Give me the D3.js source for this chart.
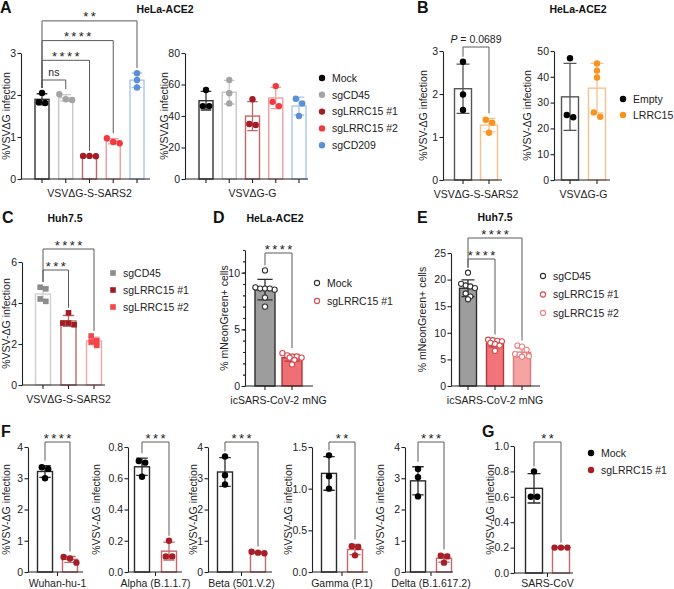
<!DOCTYPE html>
<html>
<head>
<meta charset="utf-8">
<script src="https://cdn.jsdelivr.net/npm/d3@7"></script>
<style>
  body { margin: 0; background: #fff; }
  svg { display: block; }
</style>
</head>
<body>
<script>
// ---------- data ----------
const groupsA = ["Mock", "sgCD45", "sgLRRC15 #1", "sgLRRC15 #2", "sgCD209"];
const aSpikeValues = [[2.05, 1.81, 1.83], [2.02, 1.88, 1.90], [0.55, 0.54, 0.55], [0.97, 0.85, 0.88], [2.52, 2.36, 2.18]];
const aGValues = [[56.5, 46.3, 46.3], [62.9, 54.4, 48.0], [50.6, 34.3, 34.9], [59.0, 46.3, 49.0], [51.0, 48.0, 40.0]];
const aSpikeTests = [["Mock", "sgCD45", "ns"], ["Mock", "sgLRRC15 #1", "****"], ["Mock", "sgLRRC15 #2", "****"], ["Mock", "sgCD209", "**"]];

const groupsB = ["Empty", "LRRC15"];
const bSpikeValues = [[2.75, 1.99, 1.63], [1.40, 1.33, 1.10]];
const bGValues = [[47.2, 24.3, 25.2], [45.2, 42.4, 39.7, 26.2, 24.5]];
const bSpikeTests = [["Empty", "LRRC15", "P = 0.0689"]];

const groupsC = ["sgCD45", "sgLRRC15 #1", "sgLRRC15 #2"];
const cValues = [[4.77, 4.69, 4.20, 4.08], [3.52, 2.94, 3.02, 3.02], [2.39, 2.10, 2.17, 1.93]];
const cTests = [["sgCD45", "sgLRRC15 #1", "***"], ["sgCD45", "sgLRRC15 #2", "****"]];

const groupsD = ["Mock", "sgLRRC15 #1"];
const dValues = [[10.2, 8.7, 8.6, 8.6, 8.5, 8.6, 7.8, 7.0], [2.9, 2.7, 2.6, 2.6, 2.5, 2.5, 2.3, 1.9]];
const dTests = [["Mock", "sgLRRC15 #1", "****"]];

const groupsE = ["sgCD45", "sgLRRC15 #1", "sgLRRC15 #2"];
const eValues = [[21.3, 19.2, 18.9, 18.7, 18.4, 17.4, 16.8, 16.3],
                 [8.7, 8.6, 8.5, 8.4, 8.1, 7.9, 7.6, 6.6],
                 [7.6, 7.4, 6.8, 6.0, 5.9, 5.8, 5.6, 5.5]];
const eTests = [["sgCD45", "sgLRRC15 #1", "****"], ["sgCD45", "sgLRRC15 #2", "****"]];

const groupsF = ["Mock", "sgLRRC15 #1"];
const variantsF = ["Wuhan-hu-1", "Alpha (B.1.1.7)", "Beta (501.V.2)", "Gamma (P.1)", "Delta (B.1.617.2)"];
const fMockValues = [[3.35, 3.30, 3.00], [0.71, 0.70, 0.61], [3.70, 3.10, 2.80], [1.40, 1.15, 1.00], [3.30, 3.03, 2.42]];
const fKoValues = [[0.48, 0.43, 0.30], [0.20, 0.10, 0.10], [0.65, 0.62, 0.60], [0.31, 0.30, 0.20], [0.52, 0.50, 0.30]];
const fStars = ["****", "***", "***", "**", "***"];
const fMax = [4, 0.8, 4, 1.5, 4];
const fTicks = [[0, 1, 2, 3, 4], [0, 0.2, 0.4, 0.6, 0.8], [0, 1, 2, 3, 4], [0, 0.5, 1.0, 1.5], [0, 1, 2, 3, 4]];

const gMockValues = [0.80, 0.60, 0.60];
const gKoValues = [0.20, 0.20, 0.20];
const gTicks = [0, 0.2, 0.4, 0.6, 0.8, 1.0];

// ---------- styles ----------
const FONT = '"Liberation Sans", Arial, Helvetica, sans-serif';
const FS = 10.5;
const styleA = {
  "Mock": { pt: "#000000", line: "#333333" },
  "sgCD45": { pt: "#a4a4a4", line: "#c8c8c8" },
  "sgLRRC15 #1": { pt: "#a21d25", line: "#c0666b" },
  "sgLRRC15 #2": { pt: "#ef3b40", line: "#f39b9d" },
  "sgCD209": { pt: "#5b8fd7", line: "#a9c6ee" }
};
const styleB = {
  "Empty": { pt: "#000000", line: "#555555" },
  "LRRC15": { pt: "#f7931e", line: "#f9c08a" }
};
const styleC = {
  "sgCD45": { pt: "#8c8c8c", line: "#cfcfcf" },
  "sgLRRC15 #1": { pt: "#a01c22", line: "#bb6a6e" },
  "sgLRRC15 #2": { pt: "#f2474b", line: "#f6a7a8" }
};
const styleD = {
  "Mock": { pt: "#333333", line: "#2f2f2f", fill: "#9d9d9d" },
  "sgLRRC15 #1": { pt: "#d94a4f", line: "#b2373b", fill: "#ef7074" }
};
const styleE = {
  "sgCD45": { pt: "#333333", line: "#2f2f2f", fill: "#9d9d9d" },
  "sgLRRC15 #1": { pt: "#d94a4f", line: "#b2373b", fill: "#f07478" },
  "sgLRRC15 #2": { pt: "#ef7f82", line: "#e0787a", fill: "#f6a3a4" }
};
const styleF = {
  "Mock": { pt: "#000000", line: "#2a2a2a" },
  "sgLRRC15 #1": { pt: "#a81e26", line: "#c9676c" }
};

const W = 674, H = 589;
const svg = d3.select("body").append("svg")
  .attr("width", W).attr("height", H)
  .style("background", "#fff")
  .style("font-family", FONT);

// horizontal offsets so close points sit side by side
function spread(vals, y, s, perRow) {
  const idx = d3.range(vals.length).sort((a, b) => vals[b] - vals[a]);
  const off = new Array(vals.length).fill(0);
  let row = [];
  const flush = () => {
    row.forEach((k, j) => off[k] = (j - (row.length - 1) / 2) * s);
    row = [];
  };
  idx.forEach(k => {
    if (row.length && (Math.abs(y(vals[k]) - y(vals[row[0]])) >= s || row.length >= perRow)) flush();
    row.push(k);
  });
  flush();
  return off;
}

function drawMarker(sel, kind, r, color) {
  if (kind === "square") {
    sel.append("rect").attr("x", -r).attr("y", -r).attr("width", 2 * r).attr("height", 2 * r).attr("fill", color);
  } else if (kind === "ring") {
    sel.append("circle").attr("r", r).attr("fill", "#fff").attr("stroke", color).attr("stroke-width", 1.1);
  } else {
    sel.append("circle").attr("r", r).attr("fill", color);
  }
}

function panel(c) {
  const g = svg.append("g");
  const y = d3.scaleLinear().domain([0, c.max]).range([c.yb, c.yt]);
  const x = d3.scalePoint().domain(c.groups).range([c.b0, c.b1]);
  const st = c.values.map(v => ({ mean: d3.mean(v), sd: d3.deviation(v) || 0 }));
  const styles = c.groups.map(d => c.style[d]);
  const marker = c.marker || "dot";
  const r = c.r || 3;
  const cap = c.barW * 0.38;

  // bars
  g.selectAll("rect.bar").data(c.groups).join("rect")
    .attr("class", "bar")
    .attr("x", d => x(d) - c.barW / 2)
    .attr("y", (d, i) => y(st[i].mean))
    .attr("width", c.barW)
    .attr("height", (d, i) => y(0) - y(st[i].mean))
    .attr("fill", (d, i) => styles[i].fill || "#fff")
    .attr("stroke", (d, i) => styles[i].line)
    .attr("stroke-width", 1.4);

  // error bars (mean ± SD)
  c.groups.forEach((d, i) => {
    if (st[i].sd === 0) return;
    const lo = y(st[i].mean - st[i].sd), hi = y(st[i].mean + st[i].sd), cx = x(d);
    g.append("path")
      .attr("d", `M${cx},${lo}V${hi}M${cx - cap},${hi}H${cx + cap}M${cx - cap},${lo}H${cx + cap}`)
      .attr("fill", "none")
      .attr("stroke", styles[i].line)
      .attr("stroke-width", 1.3);
  });

  // points
  c.groups.forEach((d, i) => {
    const s = c.step || 2 * r;
    const off = spread(c.values[i], y, s, Math.floor(c.barW / s) + 1);
    c.values[i].forEach((v, k) => {
      const p = g.append("g").attr("transform", `translate(${x(d) + off[k]},${y(v)})`);
      drawMarker(p, marker, r, styles[i].pt);
    });
  });

  // y axis
  const ya = g.append("g").attr("transform", `translate(${c.x0},0)`)
    .call(d3.axisLeft(y).tickValues(c.ticks).tickFormat(c.fmt || d3.format("d"))
      .tickSize(3.5).tickPadding(1.5).tickSizeOuter(0));
  if (c.minor) {
    g.append("g").attr("transform", `translate(${c.x0},0)`)
      .call(d3.axisLeft(y).tickValues(c.minor).tickFormat("").tickSize(2).tickSizeOuter(0))
      .select(".domain").remove();
  }
  // x axis
  const xt = c.midTick ? [(c.b0 + c.b1) / 2] : c.groups.map(d => x(d));
  g.append("line").attr("x1", c.x0).attr("x2", c.x1).attr("y1", c.yb).attr("y2", c.yb);
  g.selectAll("line.xt").data(xt).join("line").attr("class", "xt")
    .attr("x1", d => d).attr("x2", d => d).attr("y1", c.yb).attr("y2", c.yb + 4);
  g.selectAll("path.domain, line").attr("stroke", "#222").attr("stroke-width", 1.1);
  ya.selectAll("text").attr("font-size", FS).attr("fill", "#222").attr("font-family", FONT);

  // axis titles
  g.append("text")
    .attr("transform", `translate(${c.ylx},${(c.yb + c.yt) / 2}) rotate(-90)`)
    .attr("text-anchor", "middle").attr("font-size", FS).attr("fill", "#222")
    .text(c.ylabel);
  g.append("text")
    .attr("x", (c.b0 + c.b1) / 2).attr("y", c.yb + (c.xdy || 18))
    .attr("text-anchor", "middle").attr("font-size", FS).attr("fill", "#222")
    .text(c.xlabel);

  // significance brackets
  (c.tests || []).forEach(([a, b, label], k) => {
    const by = c.bracketBase - k * (c.bracketStep || 20);
    const ia = c.groups.indexOf(a), ib = c.groups.indexOf(b);
    const top = i => y(Math.max(d3.max(c.values[i]), st[i].mean + st[i].sd)) - 5;
    g.append("path")
      .attr("d", `M${x(a)},${top(ia)}V${by}H${x(b)}V${top(ib)}`)
      .attr("fill", "none").attr("stroke", "#5a5a5a").attr("stroke-width", 1);
    const mid = (x(a) + x(b)) / 2;
    if (/^\*+$/.test(label)) {
      g.append("text").attr("x", mid + 1.2).attr("y", by + 0.5)
        .attr("text-anchor", "middle").attr("font-size", 13).attr("letter-spacing", 2.4)
        .attr("fill", "#222").text(label);
    } else if (label.startsWith("P")) {
      const t = g.append("text").attr("x", mid).attr("y", by - 4)
        .attr("text-anchor", "middle").attr("font-size", FS).attr("fill", "#222");
      t.append("tspan").attr("font-style", "italic").text("P");
      t.append("tspan").text(label.slice(1));
    } else {
      g.append("text").attr("x", mid).attr("y", by - 4)
        .attr("text-anchor", "middle").attr("font-size", FS).attr("fill", "#222").text(label);
    }
  });
}

function legend(x, y0, step, names, style, kind, r) {
  const g = svg.append("g");
  names.forEach((n, i) => {
    const row = g.append("g").attr("transform", `translate(${x},${y0 + i * step})`);
    drawMarker(row, kind, r, style[n].pt);
    row.append("text").attr("x", 10).attr("y", 3.8).attr("font-size", FS).attr("fill", "#222").text(n);
  });
}

function label(txt, x, y, size, anchor) {
  svg.append("text").attr("x", x).attr("y", y)
    .attr("text-anchor", anchor || "start")
    .attr("font-size", size).attr("font-weight", "bold").attr("fill", "#111")
    .text(txt);
}

// ---------- panel A ----------
label("A", 0, 13, 16);
label("HeLa-ACE2", 165, 13, 10.5, "middle");
panel({ groups: groupsA, values: aSpikeValues, style: styleA, x0: 21, x1: 150, b0: 42, b1: 137,
  yb: 179, yt: 53, max: 3, ticks: [0, 1, 2, 3], barW: 14, r: 3.2,
  ylabel: "%VSVΔG infection", ylx: 10, xlabel: "VSVΔG-S-SARS2",
  tests: aSpikeTests, bracketBase: 80, bracketStep: 19.7 });
panel({ groups: groupsA, values: aGValues, style: styleA, x0: 185, x1: 308, b0: 206, b1: 299,
  yb: 179, yt: 53, max: 80, ticks: [0, 20, 40, 60, 80], barW: 14, r: 3.2,
  ylabel: "%VSVΔG infection", ylx: 168, xlabel: "VSVΔG-G" });
legend(322, 78, 16.8, groupsA, styleA, "dot", 3.2);

// ---------- panel B ----------
label("B", 417, 13, 16);
label("HeLa-ACE2", 578, 13, 10.5, "middle");
panel({ groups: groupsB, values: bSpikeValues, style: styleB, x0: 443, x1: 502, b0: 463, b1: 489,
  yb: 180, yt: 51, max: 3, ticks: [0, 1, 2, 3], barW: 17, r: 3.2,
  ylabel: "%VSV-ΔG infection", ylx: 427, xlabel: "VSVΔG-S-SARS2",
  tests: bSpikeTests, bracketBase: 47 });
panel({ groups: groupsB, values: bGValues, style: styleB, x0: 554, x1: 610, b0: 570, b1: 597,
  yb: 180, yt: 51, max: 50, ticks: [0, 10, 20, 30, 40, 50], barW: 17, r: 3.2,
  ylabel: "%VSV-ΔG infection", ylx: 531, xlabel: "VSVΔG-G" });
legend(623, 99, 16, groupsB, styleB, "dot", 3.2);

// ---------- panel C ----------
label("C", 2, 223, 16);
label("Huh7.5", 65, 222, 10.5, "middle");
panel({ groups: groupsC, values: cValues, style: styleC, x0: 22, x1: 105, b0: 43, b1: 94,
  yb: 385, yt: 262, max: 6, ticks: [0, 2, 4, 6], barW: 15, r: 2.8, marker: "square", step: 5.6,
  ylabel: "%VSV-ΔG infection", ylx: 10, xlabel: "VSVΔG-S-SARS2",
  tests: cTests, bracketBase: 270, bracketStep: 21 });
legend(113, 273, 17, groupsC, styleC, "square", 2.8);

// ---------- panel D ----------
label("D", 213, 223, 16);
label("HeLa-ACE2", 275, 222, 10.5, "middle");
panel({ groups: groupsD, values: dValues, style: styleD, x0: 245, x1: 313, b0: 265, b1: 292,
  yb: 386, yt: 250, max: 12, ticks: [0, 5, 10], minor: d3.range(0, 13), barW: 20,
  r: 2.6, marker: "ring", step: 4.8,
  ylabel: "% mNeonGreen+ cells", ylx: 228, xlabel: "icSARS-CoV-2 mNG",
  tests: dTests, bracketBase: 253 });
legend(317, 283, 18, groupsD, styleD, "ring", 2.6);

// ---------- panel E ----------
label("E", 417, 223, 16);
label("Huh7.5", 495, 221, 10.5, "middle");
panel({ groups: groupsE, values: eValues, style: styleE, x0: 451, x1: 540, b0: 468, b1: 522,
  yb: 386, yt: 253, max: 25, ticks: [0, 5, 10, 15, 20, 25], barW: 17,
  r: 2.6, marker: "ring", step: 4.6,
  ylabel: "% mNeonGreen+ cells", ylx: 426, xlabel: "icSARS-CoV-2 mNG",
  tests: eTests, bracketBase: 259, bracketStep: 21 });
legend(543, 276, 18.5, groupsE, styleE, "ring", 2.6);

// ---------- panel F ----------
label("F", 1, 437, 16);
const fLayout = [
  { x0: 28, x1: 83, b0: 45, b1: 70, ylx: 10 },
  { x0: 128, x1: 182, b0: 142, b1: 169, ylx: 100 },
  { x0: 208, x1: 272, b0: 225, b1: 258, ylx: 197 },
  { x0: 312, x1: 368, b0: 329, b1: 355, ylx: 292 },
  { x0: 405, x1: 453, b0: 418, b1: 444, ylx: 384 }
];
variantsF.forEach((v, i) => {
  panel(Object.assign({ groups: groupsF, values: [fMockValues[i], fKoValues[i]], style: styleF,
    yb: 572, yt: 447, max: fMax[i], ticks: fTicks[i],
    fmt: fMax[i] < 2 ? d3.format(".1f") : d3.format("d"),
    barW: 15, r: 3.2, midTick: true, xdy: 15,
    ylabel: "%VSV-ΔG infection", xlabel: v,
    tests: [["Mock", "sgLRRC15 #1", fStars[i]]], bracketBase: 442 }, fLayout[i]));
});

// ---------- panel G ----------
label("G", 482, 437, 16);
panel({ groups: groupsF, values: [gMockValues, gKoValues], style: styleF, x0: 514, x1: 573, b0: 534, b1: 561,
  yb: 573, yt: 446, max: 1, ticks: gTicks, fmt: d3.format(".1f"), barW: 17, r: 3.2, midTick: true, xdy: 14,
  ylabel: "%VSV-ΔG infection", ylx: 494, xlabel: "SARS-CoV",
  tests: [["Mock", "sgLRRC15 #1", "**"]], bracketBase: 442 });
legend(591, 453, 17, groupsF, styleF, "dot", 3.2);
</script>
</body>
</html>
